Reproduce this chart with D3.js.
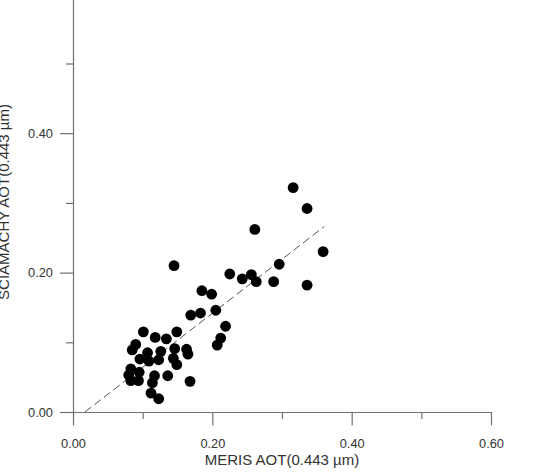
<!DOCTYPE html>
<html>
<head>
<meta charset="utf-8">
<script src="https://cdn.jsdelivr.net/npm/d3@7"></script>
<style>
  html, body { margin: 0; padding: 0; background: #fff; }
  svg { display: block; }
  text { font-family: "Liberation Sans", Arial, sans-serif; }
</style>
</head>
<body>
<svg id="chart" width="535" height="473"></svg>
<script>
// MERIS AOT (x) values
const merisAOT = [
  0.316, 0.336, 0.261, 0.359, 0.145, 0.296, 0.336, 0.225, 0.243, 0.256,
  0.263, 0.288, 0.185, 0.199, 0.169, 0.183, 0.205, 0.219, 0.212, 0.207,
  0.101, 0.118, 0.134, 0.149, 0.090, 0.085, 0.107, 0.126, 0.146, 0.163,
  0.165, 0.096, 0.109, 0.123, 0.144, 0.149, 0.083, 0.095, 0.080, 0.083,
  0.094, 0.117, 0.114, 0.136, 0.168, 0.112, 0.123
];
// SCIAMACHY AOT (y) values
const sciamachyAOT = [
  0.322, 0.292, 0.262, 0.230, 0.210, 0.212, 0.182, 0.198, 0.191, 0.197,
  0.187, 0.187, 0.174, 0.169, 0.139, 0.142, 0.146, 0.123, 0.106, 0.096,
  0.115, 0.107, 0.105, 0.115, 0.097, 0.089, 0.085, 0.087, 0.091, 0.090,
  0.083, 0.076, 0.073, 0.075, 0.077, 0.068, 0.062, 0.057, 0.053, 0.045,
  0.045, 0.052, 0.042, 0.052, 0.044, 0.027, 0.019
];
// dashed fit line end points (x, y)
const fitX = [0.0172, 0.3606];
const fitY = [0.0, 0.2661];

const xMajorTicks = [0.0, 0.2, 0.4, 0.6];
const xMinorTicks = [0.1, 0.3, 0.5];
const yMajorTicks = [0.0, 0.2, 0.4];
const yMinorTicks = [0.1, 0.3, 0.5];
const xTitle = "MERIS AOT(0.443 µm)";
const yTitle = "SCIAMACHY AOT(0.443 µm)";

const svg = d3.select("#chart");
const x = d3.scaleLinear().domain([0, 0.6]).range([73, 491]);
const y = d3.scaleLinear().domain([0, 0.6]).range([412, -6.2]);

const axisColor = "#707070";
const textColor = "#333";

function styleAxis(g) {
  g.selectAll("path.domain").attr("stroke", axisColor).attr("stroke-width", 1.2);
  g.selectAll(".tick line").attr("stroke", axisColor).attr("stroke-width", 1.2);
  g.selectAll(".tick text")
    .attr("fill", textColor)
    .style("font-size", "12.8px")
    .style("font-family", "'Liberation Sans', Arial, sans-serif");
}

// x axis
const gxMinor = svg.append("g").attr("transform", `translate(0,${y(0)})`)
  .call(d3.axisBottom(x).tickValues(xMinorTicks).tickSize(7).tickSizeOuter(0).tickFormat(""));
styleAxis(gxMinor);
gxMinor.select("path.domain").remove();
const gx = svg.append("g").attr("transform", `translate(0,${y(0)})`)
  .call(d3.axisBottom(x).tickValues(xMajorTicks).tickSize(13.5).tickSizeOuter(0)
    .tickPadding(13).tickFormat(d3.format(".2f")));
styleAxis(gx);

// y axis
const gyMinor = svg.append("g").attr("transform", `translate(${x(0)},0)`)
  .call(d3.axisLeft(y).tickValues(yMinorTicks).tickSize(7).tickSizeOuter(0).tickFormat(""));
styleAxis(gyMinor);
gyMinor.select("path.domain").remove();
const gy = svg.append("g").attr("transform", `translate(${x(0)},0)`)
  .call(d3.axisLeft(y).tickValues(yMajorTicks).tickSize(13).tickSizeOuter(0)
    .tickPadding(7).tickFormat(d3.format(".2f")));
styleAxis(gy);

// dashed fit line
svg.append("line")
  .attr("x1", x(fitX[0])).attr("y1", y(fitY[0]))
  .attr("x2", x(fitX[1])).attr("y2", y(fitY[1]))
  .attr("stroke", "#555").attr("stroke-width", 1)
  .attr("stroke-dasharray", "8,4");

// points
const pts = merisAOT.map((v, i) => ({ x: v, y: sciamachyAOT[i] }));
svg.append("g").selectAll("circle").data(pts).join("circle")
  .attr("cx", d => x(d.x)).attr("cy", d => y(d.y))
  .attr("r", 5.4).attr("fill", "#000");

// titles
svg.append("text")
  .attr("x", (x(0) + x(0.6)) / 2).attr("y", 464.5)
  .attr("text-anchor", "middle").attr("fill", textColor)
  .style("font-size", "15px").text(xTitle);

svg.append("text")
  .attr("transform", "translate(9,202) rotate(-90)")
  .attr("text-anchor", "middle").attr("fill", textColor)
  .style("font-size", "15px").text(yTitle);
</script>
</body>
</html>
